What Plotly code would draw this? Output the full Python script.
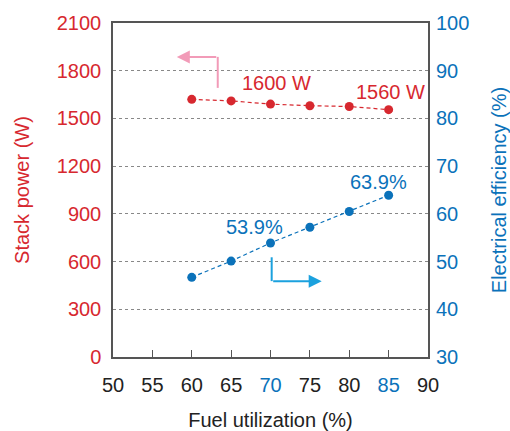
import plotly.graph_objects as go

fuel_util = [60, 65, 70, 75, 80, 85]
stack_power = [1620, 1610, 1590, 1580, 1575, 1555]
efficiency = [46.7, 50.1, 53.9, 57.2, 60.5, 63.9]

x_ticks = [50, 55, 60, 65, 70, 75, 80, 85, 90]
x_highlight = [70, 85]
power_ticks = [0, 300, 600, 900, 1200, 1500, 1800, 2100]
eff_ticks = [30, 40, 50, 60, 70, 80, 90, 100]

RED = "#d7282f"
BLUE = "#0b72ba"
PINK = "#f29bb8"
LBLUE = "#1ba1de"
FONT = "Liberation Sans, Arial, sans-serif"
FS = 20

x_text = [f'<span style="color:{BLUE}">{t}</span>' if t in x_highlight else str(t) for t in x_ticks]

fig = go.Figure()
fig.add_trace(go.Scatter(x=fuel_util, y=stack_power, mode="lines+markers",
                         line=dict(color=RED, width=1.2, dash="4px,3px"),
                         marker=dict(color=RED, size=9), yaxis="y"))
fig.add_trace(go.Scatter(x=fuel_util, y=efficiency, mode="lines+markers",
                         line=dict(color=BLUE, width=1.2, dash="4px,3px"),
                         marker=dict(color=BLUE, size=9), yaxis="y2"))

anns = [
    dict(x=70.8, y=1723, xref="x", yref="y", text="1600 W", showarrow=False,
         font=dict(color=RED, size=FS, family=FONT)),
    dict(x=85.2, y=1666, xref="x", yref="y", text="1560 W", showarrow=False,
         font=dict(color=RED, size=FS, family=FONT)),
    dict(x=68.0, y=57.3, xref="x", yref="y2", text="53.9%", showarrow=False,
         font=dict(color=BLUE, size=FS, family=FONT)),
    dict(x=83.7, y=66.7, xref="x", yref="y2", text="63.9%", showarrow=False,
         font=dict(color=BLUE, size=FS, family=FONT)),
    dict(x=58.1, y=1887, ax=63.3, ay=1887, xref="x", yref="y", axref="x", ayref="y",
         text="", showarrow=True, arrowhead=2, arrowsize=1.3, arrowwidth=2, arrowcolor=PINK),
    dict(x=76.5, y=45.9, ax=70.15, ay=45.9, xref="x", yref="y2", axref="x", ayref="y2",
         text="", showarrow=True, arrowhead=2, arrowsize=1.3, arrowwidth=2, arrowcolor=LBLUE),
]
shapes = [
    dict(type="line", x0=63.3, x1=63.3, y0=1692, y1=1887, xref="x", yref="y",
         line=dict(color=PINK, width=2)),
    dict(type="line", x0=70.15, x1=70.15, y0=50.9, y1=45.9, xref="x", yref="y2",
         line=dict(color=LBLUE, width=2)),
]

fig.update_layout(
    width=510, height=431,
    margin=dict(l=113, r=82, t=23, b=74, autoexpand=False),
    paper_bgcolor="white", plot_bgcolor="white",
    showlegend=False,
    font=dict(family=FONT, size=FS, color="#222"),
    annotations=anns, shapes=shapes,
    xaxis=dict(range=[50, 90], tickvals=x_ticks, ticktext=x_text,
               ticks="inside", ticklen=7, tickcolor="#555", tickwidth=1,
               showline=True, linecolor="#555", linewidth=1.5, mirror=True,
               showgrid=False, zeroline=False,
               tickfont=dict(size=FS, color="#222"),
               ticklabelstandoff=9,
               title=dict(text="Fuel utilization (%)", font=dict(size=FS, color="#222"), standoff=33)),
    yaxis=dict(range=[0, 2100], tickvals=power_ticks,
               ticks="outside", ticklen=6, tickcolor="rgba(0,0,0,0)",
               showline=True, linecolor="#555", linewidth=1.5, mirror=True,
               showgrid=True, gridcolor="#888", griddash="dot", gridwidth=1,
               zeroline=False, tickfont=dict(size=FS, color=RED),
               title=dict(text="Stack power (W)", font=dict(size=FS, color=RED), standoff=22)),
    yaxis2=dict(range=[30, 100], tickvals=eff_ticks, overlaying="y", side="right",
                ticks="outside", ticklen=3, tickcolor="rgba(0,0,0,0)",
                showgrid=False, zeroline=False, showline=False,
                tickfont=dict(size=FS, color=BLUE),
                title=dict(text="Electrical efficiency (%)", font=dict(size=FS, color=BLUE), standoff=23)),
)

fig.write_html("out.html", config={"displayModeBar": False},
               post_script="document.body.style.margin='0px';")
